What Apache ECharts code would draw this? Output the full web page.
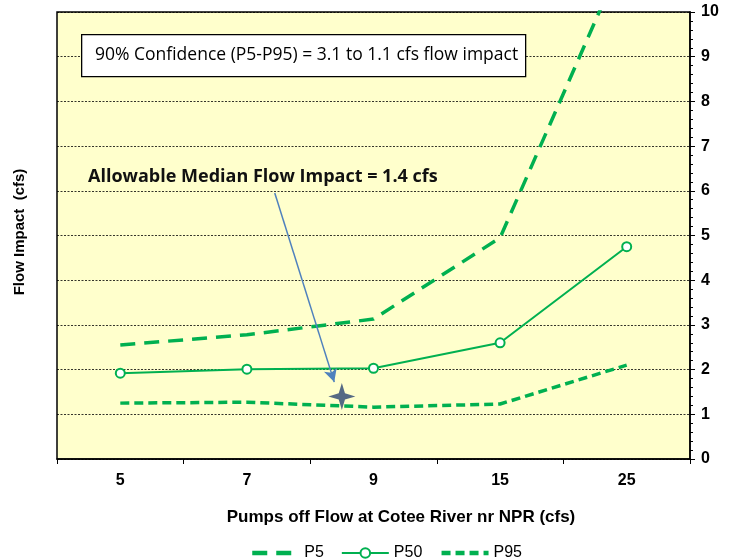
<!DOCTYPE html>
<html><head><meta charset="utf-8">
<script src="https://cdn.jsdelivr.net/npm/echarts@6/dist/echarts.min.js"></script>
<style>html,body{margin:0;padding:0;background:#fff}#c{width:729px;height:560px}</style>
</head><body><div id="c"></div>
<script>
const categories = ['5', '7', '9', '15', '25'];
const p5 = [2.55, 2.78, 3.13, 4.95, 11.4];
const p50 = [1.92, 2.01, 2.03, 2.6, 4.75];
const p95 = [1.25, 1.27, 1.16, 1.23, 2.1];
const yTicks = [0, 10, 1];
// annotation point: allowable median flow impact (on a helper value x-scale 0..5)
const starPoint = [2.25, 1.4];
const arrowFrom = [1.72, 5.95];
const arrowTo = [2.19, 1.72];

const green = '#00B050';
const chart = echarts.init(document.getElementById('c'));
chart.setOption({
  animation: false,
  backgroundColor: '#fff',
  grid: { left: 57, right: 39, top: 12, bottom: 101, show: true, backgroundColor: '#FFFFCC', borderColor: '#000', borderWidth: 1.5 },
  xAxis: [{
    type: 'category', data: categories, boundaryGap: true,
    axisLine: { lineStyle: { color: '#000', width: 1.5 } },
    axisTick: { show: true, length: 5, lineStyle: { color: '#000' } },
    axisLabel: { color: '#000', fontWeight: 'bold', fontSize: 16, fontFamily: 'Liberation Sans', margin: 14 },
    splitLine: { show: false }
  }, {
    type: 'value', min: 0, max: 5, show: false
  }],
  yAxis: {
    type: 'value', position: 'right', min: yTicks[0], max: yTicks[1], interval: yTicks[2],
    axisLine: { show: true, onZero: false, lineStyle: { color: '#000', width: 1.5 } },
    axisTick: { show: true, length: 5, lineStyle: { color: '#000' } },
    minorTick: { show: true, splitNumber: 5, length: 3, lineStyle: { color: '#000' } },
    axisLabel: { color: '#000', fontWeight: 'bold', fontSize: 16, fontFamily: 'Liberation Sans', margin: 11 },
    splitLine: { show: true, lineStyle: { color: '#000', width: 0.8, type: [2, 1.5] } }
  },
  legend: {
    top: 540, left: 245, itemWidth: 47, itemHeight: 12, itemGap: 17,
    textStyle: { color: '#000', fontSize: 16, fontFamily: 'Liberation Sans' },
    data: [
      { name: 'P5', itemStyle: { opacity: 0 }, lineStyle: { width: 4.5 } },
      { name: 'P50', lineStyle: { width: 2 } },
      { name: 'P95', itemStyle: { opacity: 0 }, lineStyle: { width: 4.5 } }
    ]
  },
  series: [
    { name: 'P5', type: 'line', data: p5, smooth: false, symbol: 'none', clip: true,
      lineStyle: { color: green, width: 3.5, type: [15, 9] }, itemStyle: { color: green } },
    { name: 'P50', type: 'line', data: p50, symbol: 'circle', symbolSize: 9,
      lineStyle: { color: green, width: 2 }, itemStyle: { color: '#fff', borderColor: green, borderWidth: 2 } },
    { name: 'P95', type: 'line', data: p95, smooth: false, symbol: 'none',
      lineStyle: { color: green, width: 3.5, type: [9, 5] }, itemStyle: { color: green } },
    { name: 'star', type: 'scatter', xAxisIndex: 1, data: [starPoint], z: 5,
      symbol: 'path://M0,-13 L3,-3 L13,0 L3,3 L0,13 L-3,3 L-13,0 L-3,-3 Z',
      symbolSize: [27, 27], itemStyle: { color: '#2B4372' },
      markLine: { silent: true, symbol: ['none', 'arrow'], symbolSize: [10, 13],
        lineStyle: { color: '#4F81BD', width: 1.5, type: 'solid' }, label: { show: false },
        data: [[{ coord: arrowFrom }, { coord: arrowTo }]] } }
  ],
  graphic: [
    { type: 'rect', left: 81, top: 34, shape: { width: 444, height: 42 }, style: { fill: '#fff', stroke: '#000', lineWidth: 1.3 }, z: 10 },
    { type: 'text', x: 95, y: 55, z: 11, style: { text: '90% Confidence (P5-P95) = 3.1 to 1.1 cfs flow impact', fill: '#000', font: '17.5px "Open Sans"', verticalAlign: 'middle' } },
    { type: 'text', x: 88, y: 177, z: 11, style: { text: 'Allowable Median Flow Impact = 1.4 cfs', fill: '#111', font: 'bold 18px "Open Sans"', verticalAlign: 'middle' } },
    { type: 'text', x: 401, y: 517, z: 11, style: { text: 'Pumps off Flow at Cotee River nr NPR (cfs)', fill: '#000', font: 'bold 17px "Liberation Sans"', align: 'center', verticalAlign: 'middle' } },
    { type: 'text', x: 20, y: 232, rotation: Math.PI / 2, z: 11, style: { text: 'Flow Impact  (cfs)', fill: '#000', font: 'bold 15px "Liberation Sans"', align: 'center', verticalAlign: 'middle' } }
  ]
});
</script></body></html>
